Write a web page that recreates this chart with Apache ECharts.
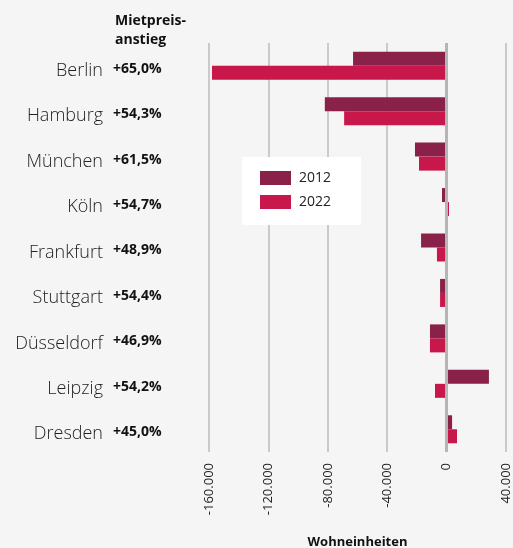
<!DOCTYPE html>
<html>
<head>
<meta charset="utf-8">
<script src="https://cdn.jsdelivr.net/npm/echarts@6/dist/echarts.min.js"></script>
<style>
html,body{margin:0;padding:0;background:#f5f5f5;}
#c{width:513px;height:548px;}
</style>
</head>
<body>
<div id="c"></div>
<script>
const cities = ['Berlin','Hamburg','München','Köln','Frankfurt','Stuttgart','Düsseldorf','Leipzig','Dresden'];
const rentIncrease = ['+65,0%','+54,3%','+61,5%','+54,7%','+48,9%','+54,4%','+46,9%','+54,2%','+45,0%'];
const values2012 = [-63000,-82000,-21300,-3100,-17200,-4400,-11200,28500,3700];
const values2022 = [-158000,-69000,-18600,1600,-6500,-4400,-11200,-7800,7000];
const seriesNames = ['2012','2022'];
const xTicks = {min:-160000, max:40000, interval:40000};

const font = '"Open Sans", Lato, "DejaVu Sans", sans-serif';
const fmt = v => {
  const s = Math.abs(v).toString().replace(/\B(?=(\d{3})+(?!\d))/g, '.');
  return (v < 0 ? '-' : '') + s;
};

const chart = echarts.init(document.getElementById('c'), null, {renderer:'canvas'});
chart.setOption({
  backgroundColor:'#f5f5f5',
  animation:false,
  title:{
    text:'Mietpreis-\nanstieg', left:110, top:7,
    textStyle:{fontFamily:font, fontSize:14, fontWeight:'bold', color:'#111', lineHeight:19}
  },
  legend:{
    orient:'vertical', left:242, top:157,
    backgroundColor:'#ffffff', padding:[14,30,16,18],
    itemWidth:31, itemHeight:14, itemGap:10,
    icon:'rect',
    textStyle:{fontFamily:font, fontSize:14, color:'#222', padding:[0,0,0,3]},
    data:seriesNames
  },
  grid:{left:209, right:7, top:43, bottom:96, containLabel:false, outerBoundsMode:'none'},
  xAxis:{
    type:'value', min:xTicks.min, max:xTicks.max, interval:xTicks.interval,
    axisLine:{show:false}, axisTick:{show:false},
    splitLine:{show:true, lineStyle:{color:'#cacaca', width:2}},
    axisLabel:{rotate:90, margin:11, fontFamily:font, fontSize:13, color:'#222', formatter:fmt},
    name:'Wohneinheiten', nameLocation:'middle', nameGap:84,
    nameTextStyle:{fontFamily:font, fontSize:13, fontWeight:'bold', color:'#111'}
  },
  yAxis:[
    {
      type:'category', data:cities, inverse:true,
      axisLine:{show:false}, axisTick:{show:false},
      axisLabel:{margin:106, formatter:v => '{c|' + v + '}',
        rich:{c:{fontFamily:font, fontSize:18, fontWeight:300, color:'#222', lineHeight:28, verticalAlign:'bottom'}}}
    },
    {
      type:'category', data:rentIncrease, inverse:true, position:'left',
      axisLine:{show:false}, axisTick:{show:false},
      axisLabel:{margin:96, align:'left', formatter:v => '{p|' + v + '}',
        rich:{p:{fontFamily:font, fontSize:14, fontWeight:'bold', color:'#111', lineHeight:20, verticalAlign:'bottom'}}}
    }
  ],
  series:[
    {
      name:seriesNames[0], type:'bar', data:values2012, yAxisIndex:0,
      barWidth:14, barGap:'0%', itemStyle:{color:'#8a2149'},
      markLine:{silent:true, symbol:'none', label:{show:false},
        lineStyle:{color:'#b5b5b5', width:3, type:'solid'}, data:[{xAxis:0}]}
    },
    {
      name:seriesNames[1], type:'bar', data:values2022, yAxisIndex:0,
      barWidth:14, barGap:'0%', itemStyle:{color:'#c8174a'}
    }
  ]
});
</script>
</body>
</html>
